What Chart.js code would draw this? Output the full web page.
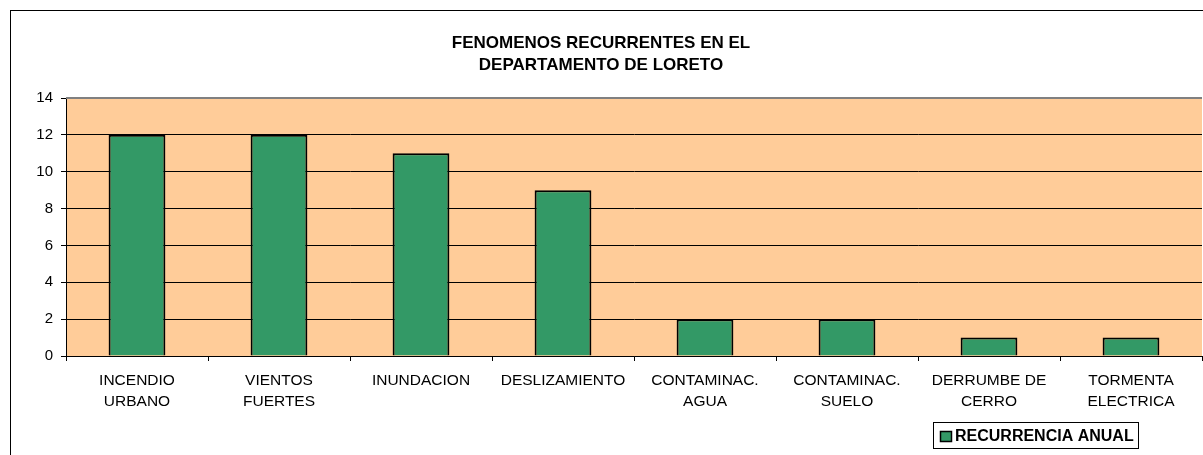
<!DOCTYPE html>
<html>
<head>
<meta charset="utf-8">
<script src="https://cdn.jsdelivr.net/npm/chart.js@4/dist/chart.umd.min.js"></script>
<style>
  html, body { margin: 0; padding: 0; background: #ffffff; overflow: hidden; }
  #wrap { width: 1203px; height: 455px; position: relative; }
</style>
</head>
<body>
<div id="wrap"><canvas id="chart" width="1203" height="455"></canvas></div>
<script>
// Chart data
const categories = [
  ['INCENDIO', 'URBANO'],
  ['VIENTOS', 'FUERTES'],
  'INUNDACION',
  'DESLIZAMIENTO',
  ['CONTAMINAC.', 'AGUA'],
  ['CONTAMINAC.', 'SUELO'],
  ['DERRUMBE DE', 'CERRO'],
  ['TORMENTA', 'ELECTRICA']
];
const recurrencia = [12, 12, 11, 9, 2, 2, 1, 1];
const yTicks = [0, 2, 4, 6, 8, 10, 12, 14];
const seriesName = 'RECURRENCIA ANUAL';
const titleLines = ['FENOMENOS RECURRENTES EN EL', 'DEPARTAMENTO DE LORETO'];

const FONT = 'Arial, "Liberation Sans", sans-serif';

// Plot background, outer frame and grey top border
const framePlugin = {
  id: 'frame',
  beforeDraw(chart) {
    const { ctx, chartArea: a } = chart;
    ctx.save();
    ctx.fillStyle = '#ffffff';
    ctx.fillRect(0, 0, chart.width, chart.height);
    ctx.strokeStyle = '#000000';
    ctx.lineWidth = 1;
    ctx.strokeRect(10.5, 10.5, chart.width + 50, chart.height + 50);
    ctx.fillStyle = '#ffcc99';
    ctx.fillRect(a.left, a.top, a.right - a.left, a.bottom - a.top);
    ctx.restore();
  },
  beforeDatasetsDraw(chart) {
    const { ctx, chartArea: a } = chart;
    ctx.save();
    ctx.strokeStyle = '#808080';
    ctx.lineWidth = 2;
    ctx.beginPath();
    ctx.moveTo(a.left, a.top);
    ctx.lineTo(a.right, a.top);
    ctx.stroke();
    ctx.restore();
  }
};

// Legend box in the lower right
const legendBoxPlugin = {
  id: 'legendBox',
  afterDraw(chart) {
    const { ctx } = chart;
    const ds = chart.data.datasets[0];
    ctx.save();
    ctx.fillStyle = '#ffffff';
    ctx.fillRect(933, 422, 205, 26);
    ctx.strokeStyle = '#000000';
    ctx.lineWidth = 1;
    ctx.strokeRect(933.5, 422.5, 205, 26);
    ctx.fillStyle = ds.backgroundColor;
    ctx.fillRect(940, 431, 12, 11);
    ctx.lineWidth = 1.5;
    ctx.strokeRect(940.5, 431.5, 11, 10);
    ctx.fillStyle = '#000000';
    ctx.font = 'bold 16px ' + FONT;
    ctx.textBaseline = 'middle';
    ctx.fillText(ds.label, 955, 436.5);
    ctx.restore();
  }
};

new Chart(document.getElementById('chart'), {
  type: 'bar',
  data: {
    labels: categories,
    datasets: [{
      label: seriesName,
      data: recurrencia,
      backgroundColor: '#339966',
      borderColor: '#000000',
      borderWidth: 2,
      barPercentage: 0.4,
      categoryPercentage: 1.0
    }]
  },
  options: {
    responsive: false,
    animation: false,
    devicePixelRatio: 1,
    layout: { padding: { left: 0, right: 1, top: 0, bottom: 0 } },
    plugins: {
      legend: { display: false },
      tooltip: { enabled: false },
      title: {
        display: true,
        text: titleLines,
        color: '#000000',
        font: { family: FONT, size: 17, weight: 'bold', lineHeight: '21.5px' },
        padding: { top: 33, bottom: 22 }
      }
    },
    scales: {
      x: {
        grid: {
          display: true,
          offset: true,
          drawOnChartArea: false,
          color: '#000000',
          tickLength: 5
        },
        border: { display: true, color: '#000000', width: 1 },
        ticks: {
          color: '#000000',
          maxRotation: 0,
          autoSkip: false,
          padding: 9,
          font: { family: FONT, size: 15.5, lineHeight: '21px' }
        },
        afterFit(scale) { scale.height = 99; }
      },
      y: {
        min: 0,
        max: 14,
        afterBuildTicks(scale) { scale.ticks = yTicks.map(v => ({ value: v })); },
        grid: {
          color: '#000000',
          lineWidth: 1,
          tickLength: 5
        },
        border: { display: true, color: '#000000', width: 1 },
        ticks: {
          color: '#000000',
          padding: 8,
          font: { family: FONT, size: 15 }
        },
        afterFit(scale) { scale.width = 66; }
      }
    }
  },
  plugins: [framePlugin, legendBoxPlugin]
});
</script>
</body>
</html>
